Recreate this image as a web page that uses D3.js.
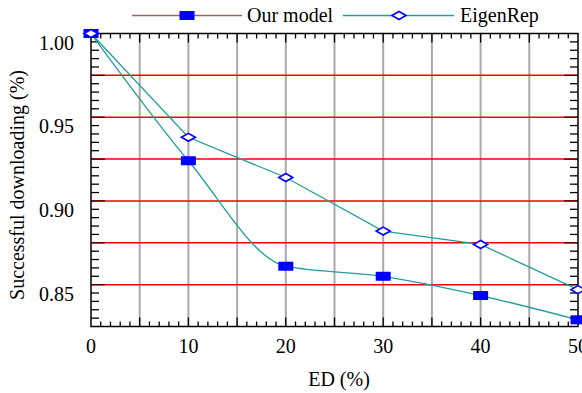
<!DOCTYPE html>
<html>
<head>
<meta charset="utf-8">
<script src="https://cdn.jsdelivr.net/npm/d3@7"></script>
<style>
  body { margin: 0; background: #fff; }
</style>
</head>
<body>
<script>
// values
var ed = [0, 10, 20, 30, 40, 50];
var ourModel = [1.000, 0.924, 0.861, 0.855, 0.8435, 0.829];
var eigenRep = [1.000, 0.938, 0.914, 0.882, 0.874, 0.847];
var xTickLabels = [0, 10, 20, 30, 40, 50];
var yTickLabels = [1.00, 0.95, 0.90, 0.85];
var seriesNames = ["Our model", "EigenRep"];

const width = 582;
const height = 393;
const pLeft = 91, pRight = 578, pTop = 33.5, pBottom = 326.5;
const serif = "'Liberation Serif', 'Times New Roman', 'DejaVu Serif', serif";

const svg = d3.select("body")
  .append("svg")
  .attr("width", width)
  .attr("height", height)
  .attr("font-family", serif);

var x = d3.scaleLinear().domain([0, 50]).range([pLeft, pRight]);
var y = d3.scaleLinear().domain([0.825, 1.0]).range([pBottom, pTop]);

// vertical grey grid every 5
svg.append("g")
  .selectAll("line")
  .data(d3.range(5, 50, 5))
  .enter()
  .append("line")
  .attr("x1", d => x(d)).attr("x2", d => x(d))
  .attr("y1", pTop).attr("y2", pBottom)
  .attr("stroke", "#a9a9a9")
  .attr("stroke-width", 2);

// red horizontal lines every 0.025
var redVals = [0.85, 0.875, 0.9, 0.925, 0.95, 0.975];
svg.append("g")
  .selectAll("line")
  .data(redVals)
  .enter()
  .append("line")
  .attr("x1", pLeft).attr("x2", pRight)
  .attr("y1", d => y(d)).attr("y2", d => y(d))
  .attr("stroke", "#ff0000")
  .attr("stroke-width", 1.5);

// ticks (inward) on all four sides
var tickG = svg.append("g").attr("stroke", "#000").attr("stroke-width", 1.3);
var xMinor = d3.range(1, 50, 1);
tickG.selectAll(".xb")
  .data(xMinor)
  .enter()
  .append("line")
  .attr("x1", d => x(d)).attr("x2", d => x(d))
  .attr("y1", pBottom).attr("y2", d => pBottom - (d % 5 == 0 ? 9 : 5));
tickG.selectAll(".xt")
  .data(xMinor)
  .enter()
  .append("line")
  .attr("x1", d => x(d)).attr("x2", d => x(d))
  .attr("y1", pTop).attr("y2", d => pTop + (d % 5 == 0 ? 9 : 5));

var yMinor = d3.range(1, 35).map(i => 0.825 + i * 0.005);
tickG.selectAll(".yl")
  .data(yMinor)
  .enter()
  .append("line")
  .attr("y1", d => y(d)).attr("y2", d => y(d))
  .attr("x1", pLeft).attr("x2", (d, i) => pLeft + ((i + 1) % 5 == 0 ? 14 : 8))
  .attr("stroke", (d, i) => (i + 1) % 5 == 0 ? "#400" : "#000");
tickG.selectAll(".yr")
  .data(yMinor)
  .enter()
  .append("line")
  .attr("y1", d => y(d)).attr("y2", d => y(d))
  .attr("x1", pRight).attr("x2", (d, i) => pRight - ((i + 1) % 5 == 0 ? 14 : 8))
  .attr("stroke", (d, i) => (i + 1) % 5 == 0 ? "#400" : "#000");

// frame
svg.append("rect")
  .attr("x", pLeft).attr("y", pTop)
  .attr("width", pRight - pLeft).attr("height", pBottom - pTop)
  .attr("fill", "none")
  .attr("stroke", "#000")
  .attr("stroke-width", 1.5);

// tick labels
svg.selectAll(".xl")
  .data(xTickLabels)
  .enter()
  .append("text")
  .attr("x", d => x(d))
  .attr("y", 353)
  .attr("text-anchor", "middle")
  .style("font-size", "20px")
  .text(d => d);

svg.selectAll(".ylab")
  .data(yTickLabels)
  .enter()
  .append("text")
  .attr("x", 74)
  .attr("y", d => y(d) + 16)
  .attr("text-anchor", "end")
  .style("font-size", "20px")
  .text(d => d.toFixed(2));

// axis titles
svg.append("text")
  .attr("x", 339).attr("y", 386)
  .attr("text-anchor", "middle")
  .style("font-size", "20px")
  .text("ED (%)");

svg.append("text")
  .attr("transform", "translate(24,185) rotate(-90)")
  .attr("text-anchor", "middle")
  .style("font-size", "20px")
  .text("Successful downloading (%)");

// lines
var teal = "#229e9c";
var lineSmooth = d3.line()
  .x((d, i) => x(ed[i]))
  .y(d => y(d))
  .curve(d3.curveMonotoneX);
var lineStraight = d3.line()
  .x((d, i) => x(ed[i]))
  .y(d => y(d));

svg.append("path")
  .attr("d", lineSmooth(ourModel))
  .attr("fill", "none")
  .attr("stroke", teal)
  .attr("stroke-width", 1.3);

svg.append("path")
  .attr("d", lineStraight(eigenRep))
  .attr("fill", "none")
  .attr("stroke", teal)
  .attr("stroke-width", 1.3);

// markers
function square(g, cx, cy) {
  g.append("rect")
    .attr("x", cx - 7.5).attr("y", cy - 4.5)
    .attr("width", 15).attr("height", 9)
    .attr("fill", "#0000ff");
}
function diamond(g, cx, cy) {
  g.append("path")
    .attr("d", "M" + (cx - 7) + "," + cy + "L" + cx + "," + (cy - 4) +
      "L" + (cx + 7) + "," + cy + "L" + cx + "," + (cy + 4) + "Z")
    .attr("fill", "#fff")
    .attr("stroke", "#0000ff")
    .attr("stroke-width", 1.6);
}
var marks = svg.append("g");
ourModel.forEach((v, i) => square(marks, x(ed[i]), y(v)));
eigenRep.forEach((v, i) => diamond(marks, x(ed[i]), y(v)));

// legend
var lg = svg.append("g");
lg.append("line")
  .attr("x1", 132).attr("x2", 242).attr("y1", 15.5).attr("y2", 15.5)
  .attr("stroke", "#a06262").attr("stroke-width", 1.5);
square(lg, 187, 15.5);
lg.append("text").attr("x", 247).attr("y", 22).style("font-size", "20px").text(seriesNames[0]);

lg.append("line")
  .attr("x1", 343).attr("x2", 454).attr("y1", 15.5).attr("y2", 15.5)
  .attr("stroke", teal).attr("stroke-width", 1.5);
diamond(lg, 399, 15.5);
lg.append("text").attr("x", 460).attr("y", 22).style("font-size", "20px").text(seriesNames[1]);
</script>
</body>
</html>
